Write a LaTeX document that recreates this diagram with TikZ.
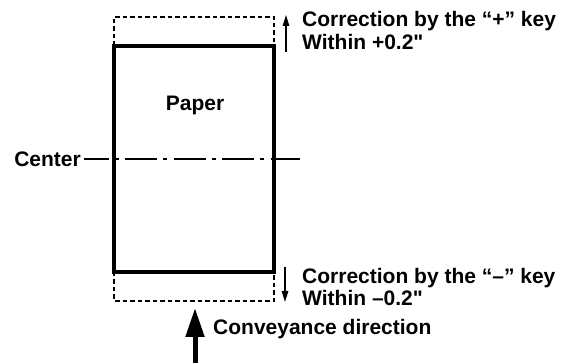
\documentclass[tikz,border=0pt]{standalone}
\usepackage{fontspec}
\newfontfamily\labelfont{Liberation Sans}
\usetikzlibrary{arrows.meta,positioning}

\begin{document}
\begin{tikzpicture}[
    x=1pt, y=-1pt,
    font=\labelfont\bfseries\fontsize{21}{23}\selectfont,
    sheet/.style={draw, line width=3.2pt, minimum width=160pt, minimum height=226pt, inner sep=0pt, outer sep=0pt},
    margin/.style={line width=2pt, dash pattern=on 4.5pt off 3pt},
    axis/.style={line width=1.3pt},
    txt/.style={inner sep=0pt, align=left},
    thin/.style={-{Triangle[length=11pt, width=6.5pt]}, line width=1.3pt},
    feed/.style={-{Triangle[length=29pt, width=18pt]}, line width=5pt},
]
\useasboundingbox (0,0) rectangle (576,363);

\node[sheet] (paper) at (194,159) {};
\node[txt] (plabel) at (195,105) {Paper};

% shift range of the leading and trailing edge
\draw[margin] (paper.north west) -- ++(0,-29) -| (paper.north east);
\draw[margin] (paper.south west) -- ++(0,29) -| (paper.south east);

% centre line
\node[txt, anchor=east] (center) at (81,159) {Center};
\draw[axis] (center.east) ++(3,0) -- ([xshift=-5pt]paper.west);
\draw[axis, dash pattern=on 32pt off 6pt on 4pt off 6.5pt, dash phase=37.5pt] (paper.west) -- (paper.east);
\coordinate (cend) at (300,159);
\draw[axis] (paper.east) -- (cend);

% correction arrows
\coordinate (plus0) at (286,52);
\coordinate (plus1) at (286,15);
\draw[thin] (plus0) -- (plus1);
\node[txt, anchor=base west] (plus) at (302,27) {Correction by the “+” key};
\node[txt, anchor=base west] (plusv) at (302,50) {Within +0.2"};

\coordinate (minus0) at (285,267);
\coordinate (minus1) at (285,302);
\draw[thin] (minus0) -- (minus1);
\node[txt, anchor=base west] (minus) at (302,284) {Correction by the “–” key};
\node[txt, anchor=base west] (minusv) at (302,306) {Within –0.2"};

% conveyance
\coordinate (feed0) at (195,363);
\coordinate (feed1) at (195,308);
\draw[feed] (feed0) -- (feed1);
\node[txt, anchor=west] (conv) at (213,329) {Conveyance direction};
\end{tikzpicture}
\end{document}
